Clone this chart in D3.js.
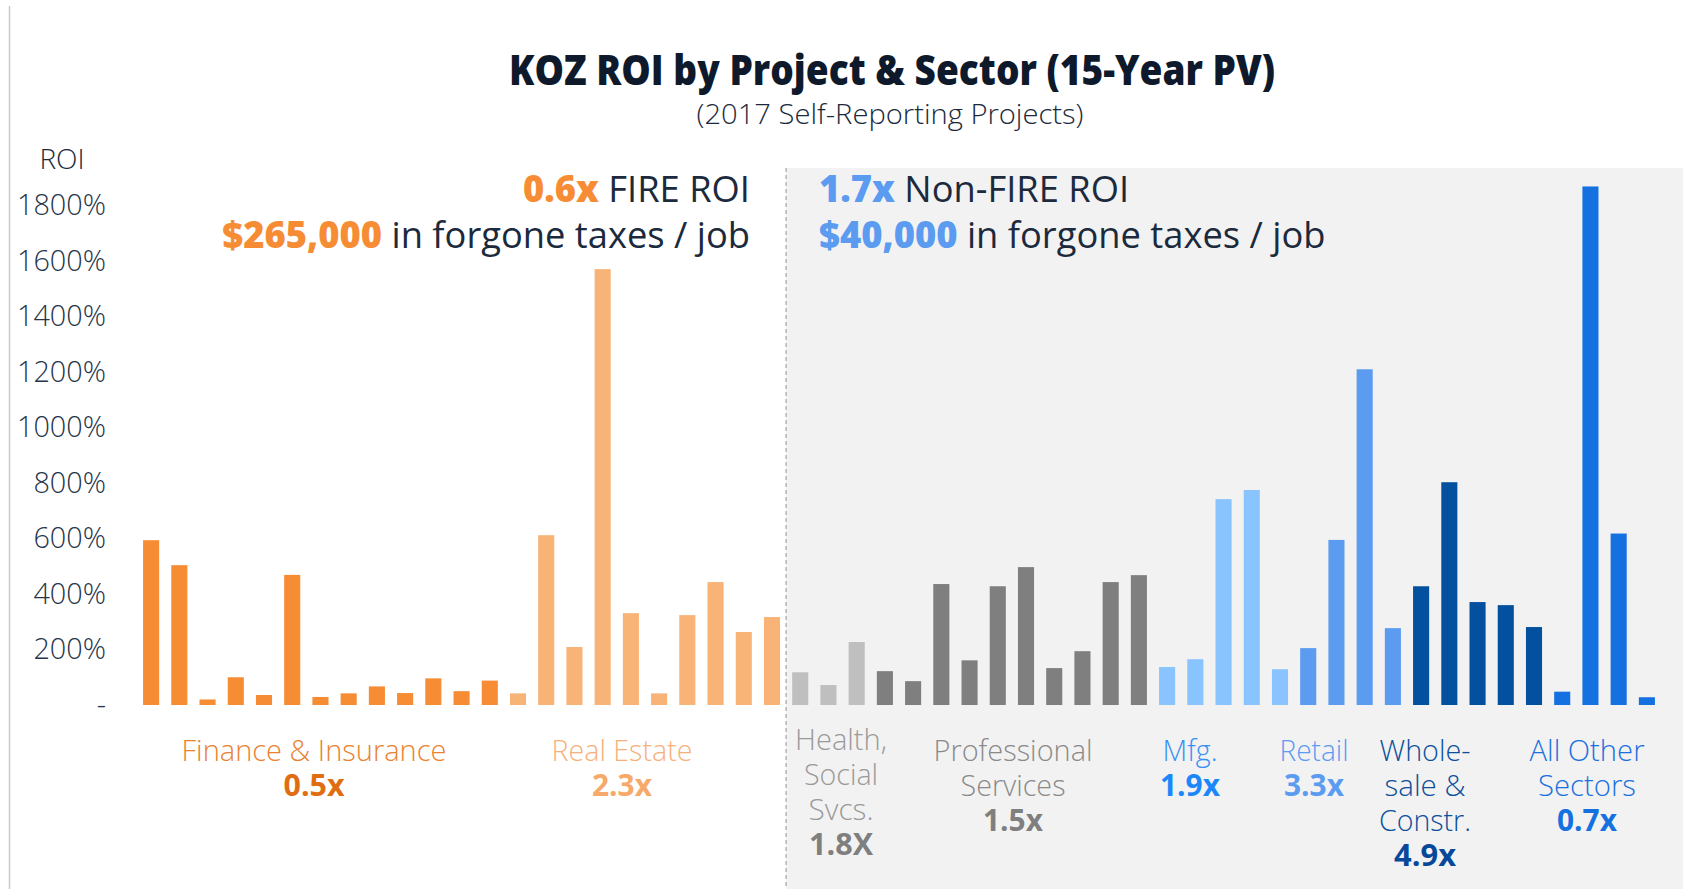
<!DOCTYPE html>
<html>
<head>
<meta charset="utf-8">
<script src="https://cdn.jsdelivr.net/npm/d3@7"></script>
<style>
  body { margin: 0; background: #fff; }
  svg text { font-family: "Open Sans", sans-serif; }
</style>
</head>
<body>
<svg id="chart" width="1688" height="889"></svg>
<script>
// ---- data (ROI in %, one value per project) ----
const sectorNames = ["Finance & Insurance", "Real Estate", "Health, Social Svcs.", "Professional Services",
  "Mfg.", "Retail", "Wholesale & Constr.", "All Other Sectors"];
const sectorLabelLines = [["Finance & Insurance"], ["Real Estate"], ["Health,", "Social", "Svcs."],
  ["Professional", "Services"], ["Mfg."], ["Retail"], ["Whole-", "sale &", "Constr."], ["All Other", "Sectors"]];
const sectorMultiples = ["0.5x", "2.3x", "1.8X", "1.5x", "1.9x", "3.3x", "4.9x", "0.7x"];

const financeRoi = [594, 504, 20, 100, 36, 469, 29, 42, 67, 43, 96, 50, 88];
const realEstateRoi = [42, 612, 209, 1571, 331, 42, 324, 443, 263, 317];
const healthRoi = [118, 72, 227];
const professionalRoi = [122, 86, 436, 161, 428, 497, 133, 194, 443, 468];
const mfgRoi = [137, 165, 742, 775, 129];
const retailRoi = [205, 595, 1210, 277];
const wholesaleRoi = [428, 803, 371, 360, 281];
const allOtherRoi = [48, 1869, 618, 28];

const yTicks = [0, 200, 400, 600, 800, 1000, 1200, 1400, 1600, 1800];

const fireNote = ["0.6x", " FIRE ROI", "$265,000", " in forgone taxes / job"];
const nonFireNote = ["1.7x", " Non-FIRE ROI", "$40,000", " in forgone taxes / job"];

// ---- styles ----
const barColors = ["#F68D35", "#F8B377", "#BFBFBF", "#7F7F7F", "#8AC4FF", "#5B9BF0", "#03509E", "#1570E0"];
const labelColors = ["#EA8230", "#F8B07A", "#9A9A9A", "#8A8A8A", "#3A90F2", "#5B9BF0", "#0B4F9C", "#1A70E0"];
const valueColors = ["#E06D12", "#F7A96A", "#7F7F7F", "#7F7F7F", "#1C87FA", "#5B9BF0", "#06499A", "#1570E0"];
const inkColor = "#1B2A3D";

// label placement (centre x, first baseline, line widths, value width)
const labelLayout = [
  {x: 314, y: 761, w: [265], vw: 61},
  {x: 622, y: 761, w: [141], vw: 60},
  {x: 841, y: 750, w: [92, 74, 65], vw: 64},
  {x: 1013, y: 761, w: [159, 105], vw: 60},
  {x: 1190, y: 761, w: [55], vw: 60},
  {x: 1314, y: 761, w: [69], vw: 60},
  {x: 1425, y: 761, w: [91, 81, 92], vw: 62},
  {x: 1587, y: 761, w: [115, 98], vw: 60}
];
const lineGap = 35;

const svg = d3.select("#chart");

const sectorRoi = [financeRoi, realEstateRoi, healthRoi, professionalRoi, mfgRoi, retailRoi, wholesaleRoi, allOtherRoi];
const bars = sectorRoi.flatMap((vals, s) => vals.map(v => ({sector: s, roi: v})));
const fireCount = financeRoi.length + realEstateRoi.length;

const x = d3.scaleBand()
  .domain(d3.range(bars.length))
  .range([137, 1661])
  .paddingInner(0.43)
  .paddingOuter(0.215);

const y = d3.scaleLinear().domain([0, 1800]).range([705, 205.6]);

// left frame line
svg.append("line")
  .attr("x1", 9.5).attr("x2", 9.5).attr("y1", 6).attr("y2", 889)
  .attr("stroke", "#c9c9c9").attr("stroke-width", 1.5);

// non-FIRE panel and divider
const divX = x(fireCount) - x.step() * x.paddingInner() / 2;
svg.append("rect")
  .attr("x", divX).attr("y", 168)
  .attr("width", 1683 - divX).attr("height", 889 - 168)
  .attr("fill", "#f2f2f2");
svg.append("line")
  .attr("x1", divX).attr("x2", divX).attr("y1", 168).attr("y2", 889)
  .attr("stroke", "#b5b5b5").attr("stroke-width", 1.5)
  .attr("stroke-dasharray", "4,3");

// title
svg.append("text")
  .attr("x", 892).attr("y", 85)
  .attr("text-anchor", "middle")
  .attr("font-size", 42).attr("font-weight", 800)
  .attr("fill", "#0E1A2B")
  .attr("textLength", 766).attr("lengthAdjust", "spacingAndGlyphs")
  .text("KOZ ROI by Project & Sector (15-Year PV)");
svg.append("text")
  .attr("x", 890).attr("y", 124)
  .attr("text-anchor", "middle")
  .attr("font-size", 27).attr("font-weight", 300)
  .attr("fill", inkColor)
  .attr("textLength", 387).attr("lengthAdjust", "spacingAndGlyphs")
  .text("(2017 Self-Reporting Projects)");

// y axis
svg.append("text")
  .attr("x", 62).attr("y", 169)
  .attr("text-anchor", "middle")
  .attr("font-size", 28).attr("font-weight", 300)
  .attr("fill", inkColor)
  .text("ROI");

const yAxis = svg.append("g")
  .attr("transform", "translate(106,0)")
  .call(d3.axisLeft(y).tickValues(yTicks).tickSize(0).tickPadding(0)
    .tickFormat(d => d === 0 ? "-" : d + "%"));
yAxis.select(".domain").remove();
yAxis.selectAll("text")
  .attr("font-family", "Open Sans, sans-serif")
  .attr("font-size", 28.8).attr("font-weight", 300)
  .attr("fill", "#26354A");

// bars
svg.append("g").selectAll("rect")
  .data(bars)
  .join("rect")
  .attr("x", (d, i) => x(i))
  .attr("y", d => y(d.roi))
  .attr("width", x.bandwidth())
  .attr("height", d => y(0) - y(d.roi))
  .attr("fill", d => barColors[d.sector]);

// headline notes
function note(parts, xPos, anchor, accent) {
  [0, 1].forEach(k => {
    const t = svg.append("text")
      .attr("x", xPos).attr("y", 202 + k * 46)
      .attr("text-anchor", anchor)
      .attr("font-size", 36.3);
    t.append("tspan").attr("font-weight", 800).attr("fill", accent).text(parts[k * 2]);
    t.append("tspan").attr("font-weight", 400).attr("fill", inkColor).text(parts[k * 2 + 1]);
  });
}
note(fireNote, 750, "end", "#F68D35");
note(nonFireNote, 819, "start", "#5B9BF0");

// sector labels: one text per sector, one tspan per line
sectorLabelLines.forEach((lines, s) => {
  const lay = labelLayout[s];
  const t = svg.append("text")
    .attr("x", lay.x).attr("y", lay.y)
    .attr("text-anchor", "middle")
    .attr("font-size", 30);
  lines.forEach((ln, k) => {
    t.append("tspan")
      .attr("x", lay.x).attr("y", lay.y + k * lineGap)
      .attr("font-weight", 300)
      .attr("fill", labelColors[s])
      .attr("textLength", lay.w[k]).attr("lengthAdjust", "spacingAndGlyphs")
      .text(ln);
  });
  t.append("tspan")
    .attr("x", lay.x).attr("y", lay.y + lines.length * lineGap)
    .attr("font-weight", 700)
    .attr("fill", valueColors[s])
    .attr("textLength", lay.vw).attr("lengthAdjust", "spacingAndGlyphs")
    .text(sectorMultiples[s]);
});
</script>
</body>
</html>
